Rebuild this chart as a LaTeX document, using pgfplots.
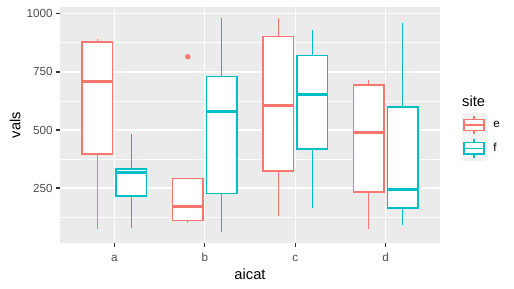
\documentclass[border=0pt]{standalone}
\usepackage{fontspec}
\setmainfont{Liberation Sans}
\usepackage{pgfplots}
\pgfplotsset{compat=1.18}
\usepgfplotslibrary{statistics}
\definecolor{ggred}{HTML}{F8766D}
\definecolor{ggcyan}{HTML}{00BFC4}
\definecolor{ggbg}{HTML}{EBEBEB}
\definecolor{ggkey}{HTML}{F2F2F2}
\definecolor{ggtick}{HTML}{4D4D4D}
\definecolor{ggtickline}{HTML}{333333}
\pgfplotsset{
  ggbox/.style n args={7}{
    forget plot, color=#1, line width=1.3pt, mark=none,
    boxplot prepared={draw direction=y, draw position=#2, lower whisker=#3,
      lower quartile=#4, median=#5, upper quartile=#6, upper whisker=#7,
      box extend=0.3375, whisker extend=0,
      every box/.style={draw=#1, fill=white, line width=1.3pt},
      every whisker/.style={draw=#1, line width=1.3pt},
      every median/.style={draw=#1, line width=2.7pt}}
  },
}
\begin{document}
\begin{tikzpicture}
\path[use as bounding box] (0,0) rectangle (514pt,289pt);
\begin{axis}[
  at={(60pt,46pt)}, anchor=south west,
  scale only axis, width=380pt, height=236pt,
  xmin=0.4, xmax=4.6, ymin=13.85, ymax=1029,
  axis background/.style={fill=ggbg},
  axis line style={draw=none},
  axis x line*=bottom, axis y line*=left,
  xtick={1,2,3,4}, xticklabels={a,b,c,d},
  ytick={250,500,750,1000}, yticklabels={250,500,750,1000},
  minor ytick={125,375,625,875},
  xmajorgrids, ymajorgrids, yminorgrids,
  major grid style={white, line width=1.42pt},
  minor grid style={white, line width=0.71pt},
  tick align=outside, major tick length=3.7pt, minor tick length=0pt,
  tick style={ggtickline, line width=1.42pt},
  ticklabel style={font=\fontsize{11.7}{13}\selectfont, text=ggtick},
  yticklabel style={inner sep=0pt, anchor=east, xshift=-3.4pt},
  xticklabel style={inner sep=0pt, anchor=north, text height=8.5pt, text depth=0pt, yshift=-6.3pt},
  xlabel={aicat}, ylabel={vals},
  label style={font=\fontsize{14.7}{16}\selectfont, inner sep=0pt},
  xlabel style={at={(axis description cs:0.5,-0.1335)}, anchor=center},
  ylabel style={at={(axis description cs:-0.1184,0.5)}, anchor=center},
  legend image code/.code={
    \fill[ggkey] (0pt,-11.5pt) rectangle (23pt,11.5pt);
    \draw[#1, line width=1.3pt, fill=white] (1.5pt,-5.75pt) rectangle (21.5pt,5.75pt);
    \draw[#1, line width=1.3pt] (1.5pt,0pt) -- (21.5pt,0pt);
    \draw[#1, line width=1.3pt] (11.5pt,5.75pt) -- (11.5pt,9.2pt);
    \draw[#1, line width=1.3pt] (11.5pt,-5.75pt) -- (11.5pt,-9.2pt);
  },
  legend style={at={(1.0579,0.5508)}, anchor=north west, draw=none, fill=none,
    inner sep=0pt, row sep=0pt, column sep=7.7pt, nodes={inner sep=0pt},
    font=\fontsize{11.7}{13}\selectfont},
  legend cell align=left,
]
% a
\addplot[ggbox={ggred}{0.8125}{76}{397}{709.5}{879}{892}] coordinates {};
\addplot[ggbox={ggcyan}{1.1875}{80}{215.5}{317}{332}{484}] coordinates {};
% b
\addplot[ggbox={ggred}{1.8125}{99}{112}{171}{291}{291}] coordinates {};
\addplot[ggbox={ggcyan}{2.1875}{60}{228}{579}{731}{983}] coordinates {};
% c
\addplot[ggbox={ggred}{2.8125}{131}{323}{605}{901}{980}] coordinates {};
\addplot[ggbox={ggcyan}{3.1875}{166}{418}{652}{819}{932}] coordinates {};
% d
\addplot[ggbox={ggred}{3.8125}{72}{233}{488}{694}{714}] coordinates {};
\addplot[ggbox={ggcyan}{4.1875}{93}{164}{243}{599}{962}] coordinates {};
% outlier
\addplot[forget plot, only marks, mark=*, mark size=2.4pt, ggred, mark options={fill=ggred, draw=none}] coordinates {(1.8125,815)};
\addlegendimage{draw=ggred}
\addlegendentry{e}
\addlegendimage{draw=ggcyan}
\addlegendentry{f}
\end{axis}
\node[anchor=west, inner sep=0pt, font=\fontsize{14.7}{16}\selectfont] at (462pt,188pt) {site};
\end{tikzpicture}
\end{document}
